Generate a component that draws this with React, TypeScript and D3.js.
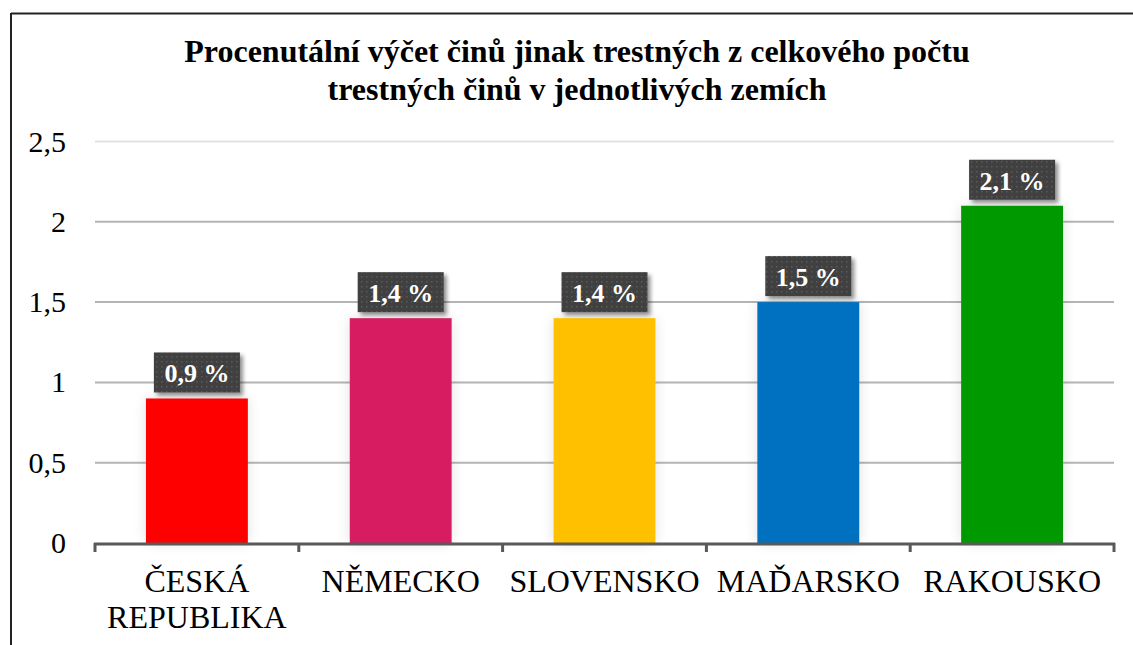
import React from "react";
import * as d3 from "d3";

const titleLines = [
  "Procenutální výčet činů jinak trestných z celkového počtu",
  "trestných činů v jednotlivých zemích",
];
const categories = ["ČESKÁ REPUBLIKA", "NĚMECKO", "SLOVENSKO", "MAĎARSKO", "RAKOUSKO"];
const values = [0.9, 1.4, 1.4, 1.5, 2.1];
const barColors = ["#ff0000", "#d81e62", "#ffc000", "#0070c0", "#009900"];
const yTicks = [0, 0.5, 1, 1.5, 2, 2.5];
const yTickLabels = ["0", "0,5", "1", "1,5", "2", "2,5"];
const valueLabels = ["0,9 %", "1,4 %", "1,4 %", "1,5 %", "2,1 %"];

const W = 1133;
const H = 645;
const FONT = "'Liberation Serif', 'Times New Roman', serif";

export default function App() {
  const x = d3
    .scaleBand<string>()
    .domain(categories)
    .range([95, 1114])
    .paddingInner(0.5)
    .paddingOuter(0.25);
  const y = d3.scaleLinear().domain([0, 2.5]).range([543, 141.5]);
  const step = x.step();
  const x0 = 95;
  const x1 = 1114;
  const boundaries = d3.range(categories.length + 1).map((i) => x0 + i * step);

  return (
    <svg
      width={W}
      height={H}
      style={{ position: "absolute", left: 0, top: 0, background: "#fff" }}
      fontFamily={FONT}
    >
      <defs>
        <pattern id="dots" width="5" height="5" patternUnits="userSpaceOnUse">
          <rect width="5" height="5" fill="#3f3f3f" />
          <rect x="1" y="1" width="1.5" height="1.5" fill="#5a5a5a" />
        </pattern>
        <filter id="boxShadow" x="-20%" y="-20%" width="150%" height="160%">
          <feGaussianBlur in="SourceAlpha" stdDeviation="2" />
          <feOffset dx="3" dy="3" result="b" />
          <feComponentTransfer>
            <feFuncA type="linear" slope="0.45" />
          </feComponentTransfer>
          <feMerge>
            <feMergeNode />
            <feMergeNode in="SourceGraphic" />
          </feMerge>
        </filter>
        <filter id="barShadow" x="-40%" y="-10%" width="180%" height="120%">
          <feGaussianBlur in="SourceAlpha" stdDeviation="7" />
          <feComponentTransfer>
            <feFuncA type="linear" slope="0.12" />
          </feComponentTransfer>
          <feMerge>
            <feMergeNode />
            <feMergeNode in="SourceGraphic" />
          </feMerge>
        </filter>
      </defs>

      {/* frame */}
      <line x1={11} y1={13.5} x2={W} y2={13.5} stroke="#222" strokeWidth={2} />
      <line x1={11} y1={13} x2={11} y2={H} stroke="#222" strokeWidth={2} />

      {/* title */}
      <text textAnchor="middle" fontWeight="bold" fontSize={32} fill="#000">
        <tspan x={577} y={62}>{titleLines[0]}</tspan>
        <tspan x={577} y={100}>{titleLines[1]}</tspan>
      </text>

      {/* gridlines */}
      {yTicks.slice(1).map((t, i) => (
        <line
          key={t}
          x1={x0}
          x2={x1}
          y1={y(t)}
          y2={y(t)}
          stroke={t === 2.5 ? "#e2e2e2" : "#b4b4b4"}
          strokeWidth={2}
        />
      ))}

      {/* y labels */}
      {yTicks.map((t, i) => (
        <text key={t} x={66} y={y(t) + 10} textAnchor="end" fontSize={30} fill="#000">
          {yTickLabels[i]}
        </text>
      ))}

      {/* bars */}
      {categories.map((c, i) => (
        <rect
          key={c}
          x={x(c)}
          y={y(values[i])}
          width={x.bandwidth()}
          height={y(0) - y(values[i])}
          fill={barColors[i]}
          filter="url(#barShadow)"
        />
      ))}

      {/* axis */}
      <line x1={x0 - 1} x2={x1 + 1} y1={y(0) + 1} y2={y(0) + 1} stroke="#595959" strokeWidth={3} />
      {boundaries.map((b, i) => (
        <line key={i} x1={b} x2={b} y1={y(0)} y2={y(0) + 9} stroke="#595959" strokeWidth={3} />
      ))}

      {/* category labels */}
      {categories.map((c) => {
        const cx = (x(c) as number) + x.bandwidth() / 2;
        const parts = c.split(" ");
        return (
          <text key={c} textAnchor="middle" fontSize={32} fill="#000">
            {parts.map((p, j) => (
              <tspan key={j} x={cx} y={592 + j * 36}>
                {p}
              </tspan>
            ))}
          </text>
        );
      })}

      {/* value labels */}
      {categories.map((c, i) => {
        const cx = (x(c) as number) + x.bandwidth() / 2;
        const top = y(values[i]);
        const bw = 86;
        const bh = 40;
        return (
          <g key={c}>
            <rect
              x={cx - bw / 2}
              y={top - 6 - bh}
              width={bw}
              height={bh}
              fill="url(#dots)"
              filter="url(#boxShadow)"
            />
            <text
              x={cx}
              y={top - 6 - 10}
              textAnchor="middle"
              fontSize={26}
              fontWeight="bold"
              fill="#fff"
            >
              {valueLabels[i]}
            </text>
          </g>
        );
      })}
    </svg>
  );
}
